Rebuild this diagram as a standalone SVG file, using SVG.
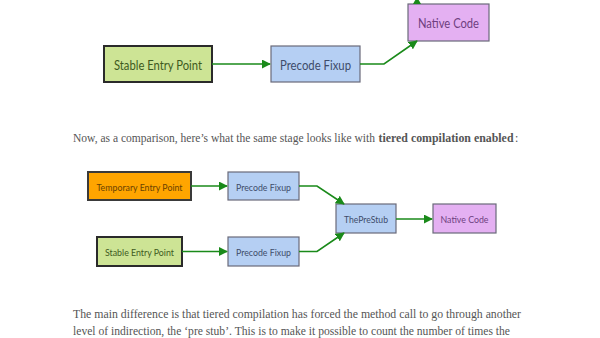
<svg xmlns="http://www.w3.org/2000/svg" width="600" height="338" viewBox="0 0 600 338">
<defs>
<marker id="ah" viewBox="0 0 10 10" refX="9" refY="5" markerWidth="9" markerHeight="9" markerUnits="userSpaceOnUse" orient="auto">
<path d="M0,0 L10,5 L0,10 z" fill="#1a8a1a"/>
</marker>
<style>
.green{fill:#cde495;stroke:#2a2a2a;stroke-width:2}
.orange{fill:#ffa500;stroke:#3a3a3a;stroke-width:2}
.blue{fill:#b5cff3;stroke:#6a6a7a;stroke-width:1.2}
.purple{fill:#e4b0f2;stroke:#6a6a7a;stroke-width:1.2}
.lbl{font-family:Lato,"Open Sans","Liberation Sans",sans-serif;text-anchor:middle;dominant-baseline:central}
.tg{fill:#3e5a1e}
.to{fill:#6b4200}
.tb{fill:#3e4c6a}
.tp{fill:#6e3f80}
.edge{fill:none;stroke:#1a8a1a;stroke-width:1.6;marker-end:url(#ah)}
.body{font-family:"Liberation Serif","DejaVu Serif",serif;font-size:12.5px;fill:#555}
.b1{font-size:11.9px}
</style>
</defs>
<rect width="600" height="338" fill="#ffffff"/>

<g id="top-stable"><rect class="green" x="104" y="46" width="108" height="36"/><text class="lbl tg" x="158" y="64.5" font-size="13" textLength="88" lengthAdjust="spacingAndGlyphs">Stable Entry Point</text></g>
<g id="top-precode"><rect class="blue" x="271" y="46" width="89" height="36"/><text class="lbl tb" x="315.5" y="64.5" font-size="13" textLength="71" lengthAdjust="spacingAndGlyphs">Precode Fixup</text></g>
<g id="top-native"><rect class="purple" x="408" y="4" width="81" height="37"/><text class="lbl tp" x="448.5" y="23" font-size="13" textLength="61" lengthAdjust="spacingAndGlyphs">Native Code</text></g>

<g id="temp"><rect class="orange" x="88" y="172" width="103" height="28"/><text class="lbl to" x="139.5" y="186.5" font-size="10" textLength="86" lengthAdjust="spacingAndGlyphs">Temporary Entry Point</text></g>
<g id="precode1"><rect class="blue" x="228" y="172" width="71" height="28"/><text class="lbl tb" x="263.5" y="186.5" font-size="10" textLength="55" lengthAdjust="spacingAndGlyphs">Precode Fixup</text></g>
<g id="stable2"><rect class="green" x="97" y="237" width="85" height="29"/><text class="lbl tg" x="139.5" y="252" font-size="10" textLength="69" lengthAdjust="spacingAndGlyphs">Stable Entry Point</text></g>
<g id="precode2"><rect class="blue" x="228" y="237" width="71" height="29"/><text class="lbl tb" x="263.5" y="252" font-size="10" textLength="55" lengthAdjust="spacingAndGlyphs">Precode Fixup</text></g>
<g id="prestub"><rect class="blue" x="336" y="204" width="60" height="29"/><text class="lbl tb" x="366" y="219" font-size="10" textLength="44" lengthAdjust="spacingAndGlyphs">ThePreStub</text></g>
<g id="native2"><rect class="purple" x="433" y="204" width="63" height="29"/><text class="lbl tp" x="464.5" y="219" font-size="10" textLength="48" lengthAdjust="spacingAndGlyphs">Native Code</text></g>

<g id="connectors">
<path class="edge" d="M212,64 L270,64"/>
<path class="edge" d="M360,64 L384,64 L417,41"/>
<path d="M413,4 L421,4 L417,-3 z" fill="#1a8a1a"/>
<path class="edge" d="M191,186 L227,186"/>
<path class="edge" d="M299,186 L317,186 L344,204"/>
<path class="edge" d="M182,251.5 L227,251.5"/>
<path class="edge" d="M299,251.5 L317,251.5 L344,233"/>
<path class="edge" d="M396,219 L432,219"/>
</g>

<text class="body b1" x="73" y="142" textLength="302" lengthAdjust="spacingAndGlyphs">Now, as a comparison, here’s what the same stage looks like with</text>
<text class="body b1" x="378.5" y="142" font-weight="bold" fill="#333" textLength="135" lengthAdjust="spacingAndGlyphs">tiered compilation enabled</text>
<text class="body b1" x="515" y="142">:</text>
<text class="body" x="73" y="317.5" textLength="448" lengthAdjust="spacingAndGlyphs">The main difference is that tiered compilation has forced the method call to go through another</text>
<text class="body" x="73" y="334.5" textLength="437" lengthAdjust="spacingAndGlyphs">level of indirection, the ‘pre stub’. This is to make it possible to count the number of times the</text>
</svg>
